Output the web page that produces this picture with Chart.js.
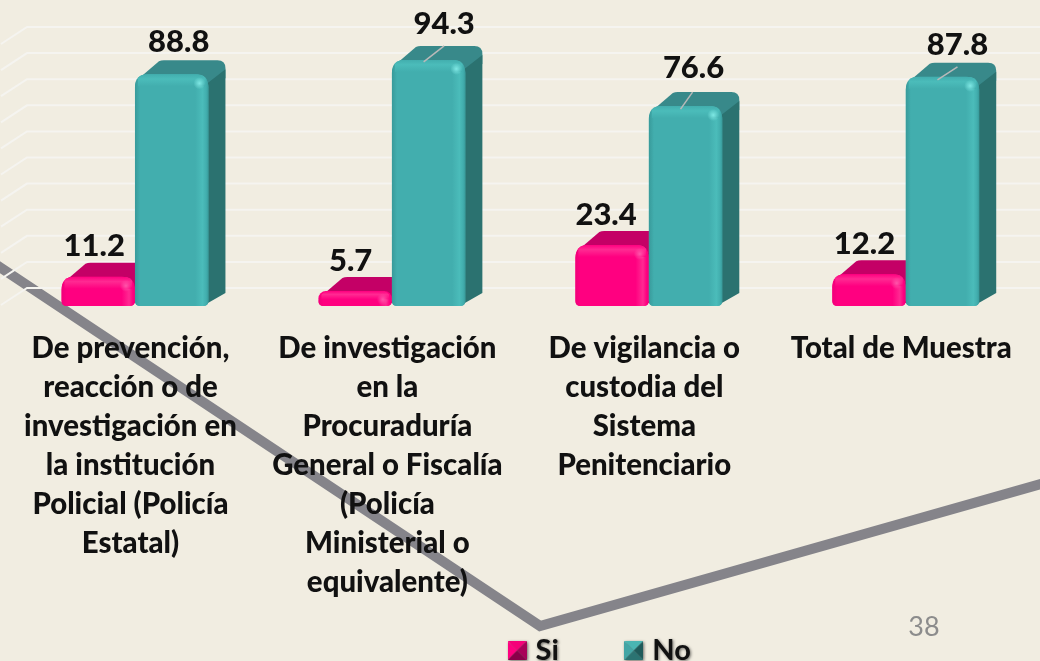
<!DOCTYPE html>
<html>
<head>
<meta charset="utf-8">
<style>html,body{margin:0;padding:0;background:#f1ede1;overflow:hidden}#w{width:1040px;height:661px;position:relative}</style>
<script src="https://cdn.jsdelivr.net/npm/chart.js@4"></script>
</head>
<body>
<div id="w"><canvas id="c" width="1040" height="661"></canvas></div>
<script>
const categories = [
  ["De prevención,","reacción o de","investigación en","la institución","Policial (Policía","Estatal)"],
  ["De investigación","en la","Procuraduría","General o Fiscalía","(Policía","Ministerial o","equivalente)"],
  ["De vigilancia o","custodia del","Sistema","Penitenciario"],
  ["Total de Muestra"]
];
const siValues = [11.2, 5.7, 23.4, 12.2];
const noValues = [88.8, 94.3, 76.6, 87.8];
const seriesNames = ["Si", "No"];
const pageNumber = "38";

const BG = '#f1ede1';
const looks = [
  {front:'#ff0080', top:'#c40066', side:'#a00055', light:'#ff2a92', glow:'#ff55aa', edge:'#f0007a'},
  {front:'#42aeae', top:'#38898a', side:'#2b7270', light:'#4bbcba', glow:'#7fe8e4', edge:'#389a9a'}
];
const nudges = [
  [{dx:-4,dy:-30.5},{dx:-4.5,dy:-30},{dx:-6,dy:-30},{dx:-4.5,dy:-30}],
  [{dx:7,dy:-32},{dx:15.5,dy:-36,lead:[-5,2,15.5,-14]},{dx:8,dy:-38,lead:[-5,3,7,-14]},{dx:15,dy:-32,lead:[-5,3,15,-10]}]
];

function bevel(c){
  const s=19,k=document.createElement('canvas');k.width=s;k.height=s;
  const g=k.getContext('2d');
  const tri=(a,b,col)=>{g.fillStyle=col;g.beginPath();g.moveTo(a[0],a[1]);g.lineTo(b[0],b[1]);g.lineTo(s/2,s/2);g.closePath();g.fill();};
  tri([0,0],[s,0],c[0]);tri([0,0],[0,s],c[1]);tri([s,0],[s,s],c[2]);tri([0,s],[s,s],c[3]);
  return k;
}
const icons=[bevel(['#f50079','#ff0080','#a80058','#8a0049']),bevel(['#4ab5b2','#43a5a5','#1f5a5a','#2b7372'])];

const R=13,RB=5;
function rr(ctx,x0,y0,x1,y1,r,rb){
  ctx.beginPath();ctx.moveTo(x0+r,y0);ctx.lineTo(x1-r,y0);ctx.quadraticCurveTo(x1,y0,x1,y0+r);
  ctx.lineTo(x1,y1-rb);ctx.quadraticCurveTo(x1,y1,x1-rb,y1);ctx.lineTo(x0+rb,y1);ctx.quadraticCurveTo(x0,y1,x0,y1-rb);
  ctx.lineTo(x0,y0+r);ctx.quadraticCurveTo(x0,y0,x0+r,y0);ctx.closePath();
}
const DX=17,DY=14;
function backFaces(ctx,el,lk){
  const {x,y,width,base}=el.getProps(['x','y','width','base'],true);
  const x0=x-width/2,x1=x+width/2;
  ctx.fillStyle=lk.top;ctx.beginPath();
  ctx.moveTo(x0+3,y+5);ctx.lineTo(x0+DX+7,y-DY+1);ctx.quadraticCurveTo(x0+DX+9,y-DY,x0+DX+12,y-DY);
  ctx.lineTo(x1+DX-8,y-DY);ctx.quadraticCurveTo(x1+DX,y-DY,x1+DX,y-DY+8);
  ctx.lineTo(x1+DX,y+4);ctx.lineTo(x1,y+10);ctx.closePath();ctx.fill();
  const h=Math.min(9,(base-y)*0.6);
  ctx.fillStyle=lk.side;ctx.beginPath();
  ctx.moveTo(x1-1,y+h);ctx.lineTo(x1+DX,y-DY+h);ctx.lineTo(x1+DX,base-DY+1);ctx.lineTo(x1-4,base-1);ctx.lineTo(x1-1,base-4);ctx.closePath();ctx.fill();
}
function frontShade(ctx,el,lk){
  const {x,y,width,base}=el.getProps(['x','y','width','base'],true);
  const x0=x-width/2,x1=x+width/2,bev=Math.min(12,(base-y)*0.55);
  ctx.save();rr(ctx,x0,y,x1,base,R,RB);ctx.clip();
  let g=ctx.createLinearGradient(x0,0,x1,0);
  g.addColorStop(0,lk.edge);g.addColorStop(0.07,lk.front);g.addColorStop(0.82,lk.front);g.addColorStop(0.92,lk.light);g.addColorStop(0.97,lk.front);g.addColorStop(1,lk.edge);
  ctx.fillStyle=g;ctx.fillRect(x0,y,width,base-y);
  g=ctx.createLinearGradient(0,y,0,y+bev);
  g.addColorStop(0,lk.front);g.addColorStop(0.4,lk.light);g.addColorStop(1,lk.front);
  ctx.fillStyle=g;ctx.fillRect(x0+3,y,width-6,bev);
  const gx=x1-9,gy=y+Math.min(9,bev);
  g=ctx.createRadialGradient(gx,gy,0,gx,gy,6);
  g.addColorStop(0,lk.glow);g.addColorStop(1,lk.glow+'00');
  ctx.fillStyle=g;ctx.fillRect(gx-7,gy-7,14,14);
  ctx.restore();
}

const slidePlugin={
  id:'slide',
  beforeDraw(chart){
    const ctx=chart.ctx,ys=chart.scales.y;
    ctx.save();
    ctx.fillStyle=BG;ctx.fillRect(0,0,chart.width,chart.height);
    ctx.strokeStyle='#85848a';ctx.lineWidth=10;ctx.lineJoin='miter';
    ctx.beginPath();ctx.moveTo(-8,262);ctx.lineTo(540,626);ctx.lineTo(1048,482);ctx.stroke();
    ctx.strokeStyle='#f5f4f0';ctx.lineWidth=2;
    ys.ticks.forEach(t=>{
      const py=ys.getPixelForValue(t.value);
      ctx.beginPath();ctx.moveTo(1,py-1);ctx.lineTo(27,py-18);ctx.lineTo(chart.width,py-18);ctx.stroke();
    });
    ctx.restore();
  },
  beforeDatasetsDraw(chart){
    const ctx=chart.ctx;
    [0,1].forEach(i=>{
      const meta=chart.getDatasetMeta(i);
      meta.data.forEach(el=>backFaces(ctx,el,looks[i]));
      meta.controller.draw();
      meta.data.forEach(el=>frontShade(ctx,el,looks[i]));
    });
    return false;
  },
  afterDraw(chart){
    const ctx=chart.ctx;
    ctx.save();
    [0,1].forEach(i=>{
      chart.getDatasetMeta(i).data.forEach((el,j)=>{
        const n=nudges[i][j];
        if(n.lead){
          ctx.strokeStyle='#b9b9b9';ctx.lineWidth=1.5;ctx.beginPath();
          ctx.moveTo(el.x+n.lead[0],el.y+n.lead[1]);ctx.lineTo(el.x+n.lead[2],el.y+n.lead[3]);ctx.stroke();
        }
        ctx.fillStyle='#111';ctx.font='900 31px Lato';ctx.textAlign='center';ctx.textBaseline='middle';
        ctx.fillText(chart.data.datasets[i].data[j].toFixed(1),el.x+n.dx,el.y+n.dy);
      });
    });
    ctx.fillStyle='#8c8c8c';ctx.font='27px Lato';ctx.textAlign='center';ctx.textBaseline='middle';
    ctx.fillText(pageNumber,924,627);
    ctx.restore();
  },
  afterLayout(chart){
    const lg=chart.legend;
    lg.left+=81.5;lg.right+=81.5;
    lg.top=636-71;
    chart.scales.x.bottom=661;
    chart.scales.x.height=355;
    if(!lg._shadowed){
      lg._shadowed=true;
      const d=lg.draw.bind(lg);
      lg.draw=function(){
        const c=chart.ctx;c.save();
        c.shadowColor='rgba(0,0,0,0.55)';c.shadowBlur=3;c.shadowOffsetX=1;c.shadowOffsetY=1;
        d();c.restore();
      };
    }
  }
};

new Chart(document.getElementById('c').getContext('2d'),{
  type:'bar',
  data:{labels:categories,datasets:[
    {label:seriesNames[0],data:siValues,backgroundColor:looks[0].front,categoryPercentage:0.572,barPercentage:1,borderSkipped:false,borderRadius:{topLeft:R,topRight:R,bottomLeft:RB,bottomRight:RB}},
    {label:seriesNames[1],data:noValues,backgroundColor:looks[1].front,categoryPercentage:0.572,barPercentage:1,borderSkipped:false,borderRadius:{topLeft:R,topRight:R,bottomLeft:RB,bottomRight:RB}}
  ]},
  options:{
    responsive:false,animation:false,
    layout:{padding:{left:6.5,right:5.5,top:45,bottom:0}},
    plugins:{
      tooltip:{enabled:false},
      legend:{position:'bottom',labels:{
        font:{family:'Lato',weight:'bold',size:29},color:'#111',
        usePointStyle:true,pointStyleWidth:8,padding:71,
        boxHeight:19,
        generateLabels(chart){
          const ls=Chart.defaults.plugins.legend.labels.generateLabels(chart);
          ls.forEach(l=>{l.pointStyle=icons[l.datasetIndex];l.strokeStyle='transparent';l.lineWidth=0;});
          return ls;
        }
      }}
    },
    scales:{
      x:{
        grid:{display:false,drawTicks:false},border:{display:false},
        afterFit(s){s.height=661-306-s.chart.legend.height;},
        ticks:{autoSkip:false,maxRotation:0,minRotation:0,padding:23,labelOffset:-4.5,color:'#111',
          font:{family:'Lato',weight:'900',size:29.4,lineHeight:39/29.4}}
      },
      y:{display:false,min:0,max:100,ticks:{stepSize:10}}
    }
  },
  plugins:[slidePlugin]
});
</script>
</body>
</html>
